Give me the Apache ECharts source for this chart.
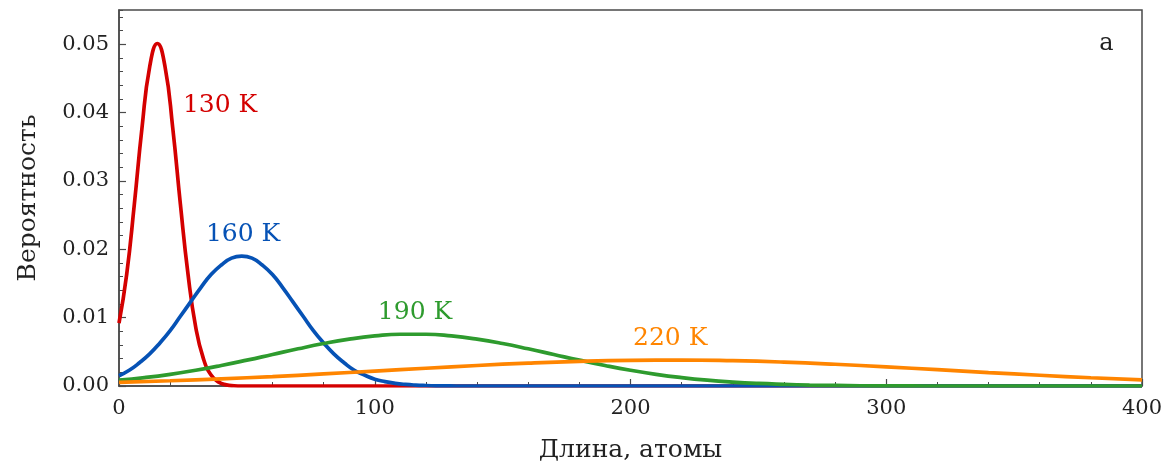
<!DOCTYPE html>
<html>
<head>
<meta charset="utf-8">
<script src="https://cdn.jsdelivr.net/npm/echarts@6/dist/echarts.min.js"></script>
<style>
html,body{margin:0;padding:0;background:#fff;}
#chart{width:1167px;height:462px;}
</style>
</head>
<body>
<div id="chart"></div>
<script>
// ---- data ----
const xName = 'Длина, атомы';
const yName = 'Вероятность';
const panelLabel = 'a';

const seriesNames = ['130 K', '160 K', '190 K', '220 K'];

const red130 = [
  [0,0.0092],[3,0.0163],[6,0.0266],[9,0.0378],[12,0.0467],[15,0.0501],[18,0.0467],[21,0.0378],
  [24,0.0266],[27,0.0163],[30,0.0086],[33,0.0040],[36,0.0016],[39,0.00056],[42,0.00017],
  [45,0.00004],[48,0],[51,0],[60,0],[80,0],[100,0],[200,0],[300,0],[400,0]
];
const blue160 = [
  [0,0.0015],[4,0.0023],[8,0.0034],[12,0.0047],[16,0.0063],[20,0.0081],[24,0.0102],[28,0.0123],
  [32,0.0144],[36,0.0163],[40,0.0177],[44,0.0187],[48,0.0190],[52,0.0187],[56,0.0177],[60,0.0163],
  [64,0.0144],[68,0.0123],[72,0.0102],[76,0.0081],[80,0.0063],[84,0.0047],[88,0.0034],[92,0.0023],
  [96,0.0016],[100,0.0010],[104,0.00064],[108,0.00039],[112,0.00023],[116,0.00013],[120,0.00007],
  [124,0.00003],[128,0.00001],[132,0],[140,0],[160,0],[200,0],[300,0],[400,0]
];
const green190 = [
  [0,0.00085],[10,0.00123],[20,0.00171],[30,0.00230],[40,0.00300],[50,0.00378],[60,0.00461],
  [70,0.00544],[80,0.00621],[90,0.00685],[100,0.00732],[110,0.00757],[120,0.00757],
  [130,0.00732],[140,0.00685],[150,0.00621],[160,0.00544],[170,0.00461],[180,0.00378],[190,0.00300],
  [200,0.00230],[210,0.00171],[220,0.00123],[230,0.00085],[240,0.00057],[250,0.00037],[260,0.00024],
  [270,0.00014],[280,0.00008],[290,0.00004],[300,0.00002],[310,0.00001],[320,0],[340,0],[400,0]
];
const orange220 = [
  [0,0.00054],[20,0.00077],[40,0.00105],[60,0.00138],[80,0.00177],[100,0.00218],[120,0.00260],
  [140,0.00300],[160,0.00335],[180,0.00361],[200,0.00376],[220,0.00380],[240,0.00370],[260,0.00349],
  [280,0.00318],[300,0.00280],[320,0.00239],[340,0.00197],[360,0.00157],[380,0.00121],[400,0.00090]
];

// annotation anchor points (data coords: left edge / vertical middle of each label)
const annotations = [
  [25.0, 0.0411],
  [34.0, 0.0222],
  [101.2, 0.01075],
  [201.0, 0.0070]
];
const panelLabelPos = [383.3, 0.0500];

const xTicks = {min: 0, max: 400, interval: 100};
const yTicks = {min: 0, max: 0.055, interval: 0.01, minorInterval: 0.002};

// ---- styling ----
const colors = ['#d40000', '#0652b5', '#2e9b2e', '#ff8500'];
const FONT = 'DejaVu Serif';
const axisColor = '#4a4a4a';

const chart = echarts.init(document.getElementById('chart'), null, {renderer: 'canvas'});

const dataSets = [red130, blue160, green190, orange220];

const series = dataSets.map((d, i) => ({
  name: seriesNames[i],
  type: 'line',
  data: d,
  xAxisIndex: 0,
  yAxisIndex: 0,
  smooth: 0.5,
  smoothConstraint: false,
  showSymbol: false,
  symbol: 'none',
  clip: true,
  lineStyle: {color: colors[i], width: 3.7},
  z: 2 + i,
  animation: false,
  markPoint: {
    symbol: 'circle',
    symbolSize: 0,
    animation: false,
    silent: true,
    data: [{
      coord: annotations[i],
      label: {
        show: true,
        position: 'right',
        distance: 0,
        formatter: seriesNames[i],
        color: colors[i],
        fontFamily: FONT,
        fontSize: 25
      }
    }].concat(i === 3 ? [{
      coord: panelLabelPos,
      label: {
        show: true,
        position: 'right',
        distance: 0,
        formatter: panelLabel,
        color: '#222',
        fontFamily: FONT,
        fontSize: 24
      }
    }] : [])
  }
}));

const option = {
  backgroundColor: '#fff',
  animation: false,
  grid: {
    left: 119, right: 25, top: 10, bottom: 76,
    containLabel: false,
    outerBoundsMode: 'none',
    show: true, borderColor: axisColor, borderWidth: 1.5, backgroundColor: 'transparent'
  },
  xAxis: [{
    type: 'value',
    min: xTicks.min, max: xTicks.max, interval: xTicks.interval,
    name: xName, nameLocation: 'middle', nameGap: 52,
    nameTextStyle: {fontFamily: FONT, fontSize: 25, color: '#222'},
    axisLine: {show: true, lineStyle: {color: axisColor, width: 1.5}},
    axisTick: {show: true, inside: true, length: 7, lineStyle: {color: axisColor, width: 1.2}},
    minorTick: {show: true, splitNumber: 5, length: 4, lineStyle: {color: axisColor, width: 1}},
    axisLabel: {fontFamily: FONT, fontSize: 21, color: '#222', margin: 12},
    splitLine: {show: false},
    minorSplitLine: {show: false}
  }],
  yAxis: [{
    type: 'value',
    min: yTicks.min, max: yTicks.max, interval: yTicks.interval,
    name: yName, nameLocation: 'middle', nameGap: 78, nameRotate: 90,
    nameTextStyle: {fontFamily: FONT, fontSize: 25, color: '#222'},
    axisLine: {show: true, lineStyle: {color: axisColor, width: 1.5}},
    axisTick: {show: true, inside: true, length: 7, lineStyle: {color: axisColor, width: 1.2}},
    axisLabel: {
      fontFamily: FONT, fontSize: 21, color: '#222', margin: 10,
      showMaxLabel: false,
      formatter: v => v.toFixed(2)
    },
    splitLine: {show: false}
  }, {
    type: 'value',
    position: 'left',
    min: yTicks.min, max: yTicks.max, interval: yTicks.minorInterval,
    axisLine: {show: false},
    axisTick: {show: true, inside: true, length: 4, lineStyle: {color: axisColor, width: 1}},
    axisLabel: {show: false},
    splitLine: {show: false}
  }],
  series: series
};

chart.setOption(option);
</script>
</body>
</html>
